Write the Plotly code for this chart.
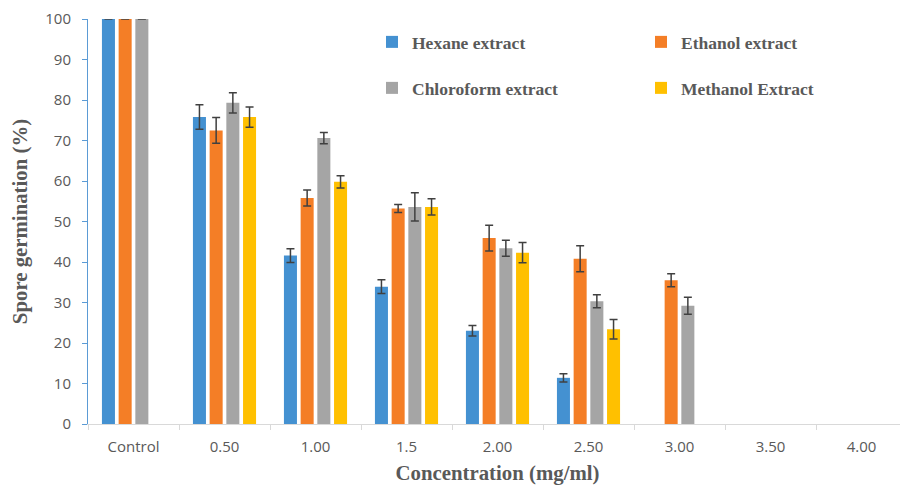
import plotly.graph_objects as go

categories = ["Control", "0.50", "1.00", "1.5", "2.00", "2.50", "3.00", "3.50", "4.00"]

hexane = [100, 75.8, 41.6, 33.9, 23.0, 11.4, None, None, None]
hexane_err = [0, 3.0, 1.7, 1.7, 1.3, 1.0, None, None, None]

ethanol = [100, 72.5, 55.8, 53.2, 45.9, 40.8, 35.5, None, None]
ethanol_err = [0, 3.2, 2.0, 1.0, 3.2, 3.2, 1.6, None, None]

chloroform = [100, 79.3, 70.6, 53.6, 43.4, 30.3, 29.2, None, None]
chloroform_err = [0, 2.5, 1.4, 3.5, 2.0, 1.6, 2.1, None, None]

methanol = [None, 75.8, 59.8, 53.6, 42.3, 23.4, None, None, None]
methanol_err = [None, 2.5, 1.5, 2.0, 2.5, 2.4, None, None, None]

series = [
    ("Hexane extract", hexane, hexane_err, "#4491d1", "legend"),
    ("Ethanol extract", ethanol, ethanol_err, "#f47e26", "legend2"),
    ("Chloroform extract", chloroform, chloroform_err, "#a5a5a5", "legend3"),
    ("Methanol Extract", methanol, methanol_err, "#ffc000", "legend4"),
]

fig = go.Figure()
for name, vals, errs, color, leg in series:
    fig.add_trace(go.Bar(
        x=categories, y=vals, name=name,
        marker=dict(color=color, line=dict(width=0)),
        error_y=dict(type="data", array=errs, visible=True,
                     color="#404040", thickness=1.5, width=4),
        legend=leg,
    ))

legfont = dict(family="Liberation Serif", size=17.5, color="#595959", weight="bold")
def leg(x, y):
    return dict(x=x, y=y, xref="paper", yref="paper", xanchor="left", yanchor="middle",
                font=legfont, bgcolor="rgba(0,0,0,0)", itemwidth=30)

# page has an 8px body margin; figure is sized so it fits the 908x485 window
OFF = 8
W, H = 908 - OFF, 485 - OFF
L, R, T, B = 88 - OFF, 1, 19 - OFF, 61
pw, ph = W - L - R, H - T - B
def px_x(px):
    return (px - OFF - L) / pw
def px_y(py):
    return (H - B - (py - OFF)) / ph

titlefont = dict(family="Liberation Serif", size=20.8, color="#595959", weight="bold")
tickfont = dict(family="Open Sans", size=15, color="#595959")

fig.update_layout(
    width=W, height=H,
    margin=dict(l=L, r=R, t=T, b=B),
    paper_bgcolor="white", plot_bgcolor="white",
    barmode="group", bargap=0.266, bargroupgap=0.22,
    showlegend=True,
    legend=leg(px_x(372), px_y(42)),
    legend2=leg(px_x(641), px_y(42)),
    legend3=leg(px_x(372), px_y(88)),
    legend4=leg(px_x(641), px_y(88)),
    xaxis=dict(
        type="category", categoryorder="array", categoryarray=categories,
        range=[-0.5, 8.5], automargin=False,
        showline=True, linecolor="#d9d9d9", linewidth=1,
        ticks="outside", tickson="boundaries", ticklen=5, tickcolor="#d9d9d9",
        tickfont=tickfont, ticklabelstandoff=9,
        showgrid=False,
        title=dict(text="Concentration (mg/ml)", standoff=13, font=titlefont),
    ),
    yaxis=dict(
        range=[0, 100], tickvals=list(range(0, 101, 10)), automargin=False,
        showline=True, linecolor="#5b9bd5", linewidth=1,
        ticks="outside", ticklen=5, tickcolor="#5b9bd5",
        tickfont=tickfont, ticklabelstandoff=8,
        showgrid=False, zeroline=False,
        title=dict(text="Spore germination (%)", standoff=11, font=titlefont),
    ),
)

fig.write_html("out.html")
